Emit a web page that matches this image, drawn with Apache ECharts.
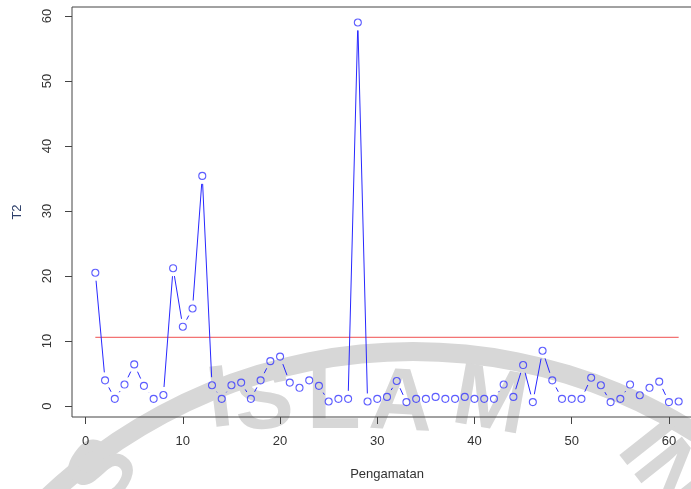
<!DOCTYPE html>
<html>
<head>
<meta charset="utf-8">
<title>T2 Pengamatan</title>
<script src="https://cdn.jsdelivr.net/npm/echarts@6.0.0/dist/echarts.min.js"></script>
<style>
  html, body { margin: 0; padding: 0; background: #fff; }
  #main { width: 691px; height: 489px; }
</style>
</head>
<body>
<div id="main"></div>
<script type="text/javascript">
// nilai T2 per pengamatan
var pengamatan = [];
for (var k = 1; k <= 61; k++) pengamatan.push(k);
var t2 = [20.5, 3.95, 1.1, 3.3, 6.4, 3.1, 1.1, 1.7, 21.2, 12.2,
          15.0, 35.4, 3.2, 1.1, 3.2, 3.6, 1.1, 3.95, 6.9, 7.6,
          3.6, 2.8, 3.95, 3.1, 0.7, 1.1, 1.1, 59.0, 0.7, 1.1,
          1.4, 3.85, 0.6, 1.1, 1.1, 1.4, 1.1, 1.1, 1.4, 1.1,
          1.1, 1.1, 3.3, 1.4, 6.3, 0.6, 8.5, 3.95, 1.1, 1.1,
          1.1, 4.35, 3.2, 0.6, 1.1, 3.3, 1.65, 2.8, 3.75, 0.6, 0.7];
var batas = 10.57;          // garis batas kontrol (merah)
var xTicks = [0, 10, 20, 30, 40, 50, 60];
var yTicks = [0, 10, 20, 30, 40, 50, 60];

var titik = pengamatan.map(function (x, i) { return [x, t2[i]]; });
// segmen antar titik (gaya type="b" di R: garis tidak menyentuh lingkaran)
var segmen = [];
for (var i = 1; i < titik.length; i++) {
    segmen.push([titik[i][0], titik[i][1], titik[i - 1][0], titik[i - 1][1]]);
}
var GAP = 8;

var wm = '#d7d7d7';
var font = '"Liberation Sans", Arial, sans-serif';
var wmFont = 'bold 88px ' + font;

function huruf(t, x, y, rot) {
    return { type: 'text', silent: true, z: -10, x: x, y: y, rotation: rot,
             style: { text: t, font: wmFont, fill: wm, align: 'center', verticalAlign: 'middle' } };
}

var myChart = echarts.init(document.getElementById('main'));

var option = {
    animation: false,
    backgroundColor: '#fff',
    textStyle: { fontFamily: font },
    graphic: [
        { type: 'ring', silent: true, z: -10, shape: { cx: 413, cy: 883, r: 541, r0: 522 }, style: { fill: wm } },
        huruf('I', 220, 402, 0.12),
        huruf('S', 264, 404, 0.07),
        huruf('L', 334, 404, 0.0),
        huruf('A', 401, 405, -0.05),
        huruf('M', 490, 404, -0.18),
        huruf('S', 105, 474, 0.95),
        huruf('IN', 662, 470, -0.9)
    ],
    grid: {
        left: 72,
        top: 7,
        width: 630,
        height: 410,
        show: true,
        borderColor: '#444',
        borderWidth: 1,
        backgroundColor: 'transparent',
        outerBoundsMode: 'none'
    },
    xAxis: {
        type: 'value',
        min: -1.4,
        max: 63.4,
        name: 'Pengamatan',
        nameLocation: 'middle',
        nameGap: 51,
        nameTextStyle: { fontSize: 13, color: '#333', fontFamily: font },
        axisLine: { show: false, onZero: false },
        splitLine: { show: false },
        axisTick: { show: true, length: 7, customValues: xTicks, lineStyle: { color: '#444' } },
        axisLabel: { customValues: xTicks, margin: 18, fontSize: 13, color: '#333', fontFamily: font }
    },
    yAxis: {
        type: 'value',
        min: -1.69,
        max: 61.38,
        name: 'T2',
        nameLocation: 'middle',
        nameRotate: 90,
        nameGap: 48,
        nameTextStyle: { fontSize: 13, color: '#2d3f6a', fontFamily: font },
        axisLine: { show: false, onZero: false },
        splitLine: { show: false },
        axisTick: { show: true, length: 7, customValues: yTicks, lineStyle: { color: '#444' } },
        axisLabel: { customValues: yTicks, rotate: 90, margin: 18, fontSize: 13, color: '#333', fontFamily: font }
    },
    series: [
        {
            name: 'batas',
            type: 'line',
            data: [[1, batas], [61, batas]],
            showSymbol: false,
            lineStyle: { color: '#f05050', width: 1 },
            z: 3
        },
        {
            name: 'garis',
            type: 'custom',
            data: segmen,
            encode: { x: 0, y: 1 },
            z: 4,
            renderItem: function (params, api) {
                var a = api.coord([api.value(2), api.value(3)]);
                var b = api.coord([api.value(0), api.value(1)]);
                var dx = b[0] - a[0], dy = b[1] - a[1];
                var len = Math.sqrt(dx * dx + dy * dy);
                if (len <= 2 * GAP) return null;
                var ux = dx / len, uy = dy / len;
                return {
                    type: 'line',
                    shape: { x1: a[0] + ux * GAP, y1: a[1] + uy * GAP, x2: b[0] - ux * GAP, y2: b[1] - uy * GAP },
                    style: { stroke: '#2828ff', lineWidth: 1 }
                };
            }
        },
        {
            name: 'T2',
            type: 'scatter',
            data: titik,
            symbol: 'circle',
            symbolSize: 7,
            itemStyle: { color: 'transparent', borderColor: '#3535ff', borderWidth: 1.1 },
            z: 5
        }
    ]
};

myChart.setOption(option);
</script>
</body>
</html>
